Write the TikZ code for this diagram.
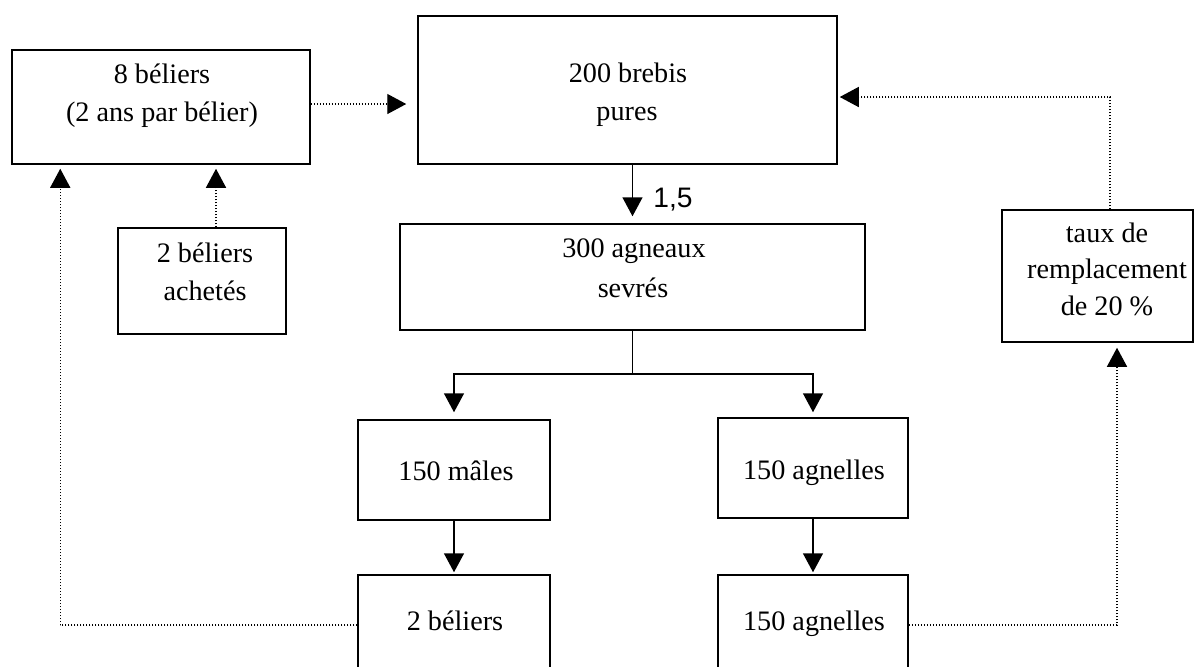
\documentclass[tikz,border=0pt]{standalone}
\usepackage{fontspec}
\setmainfont{Liberation Serif}
\newfontfamily\arialfont{Liberation Sans}
\usetikzlibrary{arrows.meta,calc}

\begin{document}
\begin{tikzpicture}[x=0.5pt,y=-0.5pt,
  box/.style={draw,line width=0.75pt,rectangle,inner sep=0pt,anchor=center},
  txt/.style={inner sep=0pt,anchor=base,font=\fontsize{14.1}{16}\selectfont},
  arr/.style={line width=0.75pt,-{Triangle[length=9.5pt,width=10pt]}},
  dotarr/.style={arr,line width=0.7pt,dash pattern=on 0.7pt off 0.8pt}]
\clip (0,0) rectangle (1195,666);
\fill[white] (0,0) rectangle (1195,666);

% boxes
\node[box,minimum width=149pt,minimum height=57pt] (A) at (161,107) {};
\node[box,minimum width=209.5pt,minimum height=74pt] (B) at (627.5,90) {};
\node[box,minimum width=84pt,minimum height=53pt] (P) at (202,281) {};
\node[box,minimum width=232.5pt,minimum height=53pt] (C) at (632.5,277) {};
\node[box,minimum width=95.5pt,minimum height=66pt] (T) at (1097.5,276) {};
\node[box,minimum width=96pt,minimum height=50pt] (M) at (454,470) {};
\node[box,minimum width=95pt,minimum height=50pt] (G) at (813,468) {};
\node[box,minimum width=96pt,minimum height=50pt] (R) at (454,625) {};
\node[box,minimum width=95pt,minimum height=50pt] (H) at (813,625) {};

% texts
\node[txt] (a1t) at (162,83) {8 béliers};
\node[txt] (a2t) at (162,121) {(2 ans par bélier)};
\node[txt] (b1t) at (628,82) {200 brebis};
\node[txt] (b2t) at (627,120) {pures};
\node[txt] (c1t) at (634,257) {300 agneaux};
\node[txt] (c2t) at (633,297) {sevrés};
\node[txt] (p1t) at (205,262) {2 béliers};
\node[txt] (p2t) at (205,300) {achetés};
\node[txt] (t1t) at (1107,242) {taux de};
\node[txt] (t2t) at (1107,278) {remplacement};
\node[txt] (t3t) at (1107,315) {de 20 \%};
\node[txt] (mt) at (456,480) {150 mâles};
\node[txt] (gt) at (814,479) {150 agnelles};
\node[txt] (rt) at (455,630) {2 béliers};
\node[txt] (ht) at (814,630) {150 agnelles};
\node[inner sep=0pt,anchor=base,font=\arialfont\fontsize{14.1}{16}\selectfont] (r15) at (673,207) {1,5};

% connectors
\coordinate (a0) at ($(A.east)+(0,-3)$);
\draw[dotarr,shorten >=5.5pt] (a0) -- (a0 -| B.west);

\coordinate (t0) at ($(T.north)+(12.5,0)$);
\coordinate (b0) at ($(B.east)+(0,7)$);
\draw[dotarr,shorten >=1pt] (t0) |- (b0);

\draw[arr,shorten >=3.5pt] (C.north |- B.south) -- (C.north);

\draw[line width=0.75pt] (C.south) -- ++(0,43) coordinate (s0);
\draw[arr,shorten >=3.5pt] (s0) -| (M.north);
\draw[arr,shorten >=2.5pt] (s0) -| (G.north);

\draw[arr,shorten >=1pt] (M.south) -- (R.north);
\draw[arr,shorten >=1pt] (G.south) -- (H.north);

\coordinate (a1) at ($(A.south west)+(49,0)$);
\draw[dotarr,shorten >=2pt] (R.west) -| (a1);

\coordinate (p0) at ($(P.north)+(14,0)$);
\draw[dotarr,shorten >=2pt] (p0) -- (p0 |- A.south);

\coordinate (t1) at ($(T.south)+(19.5,0)$);
\draw[dotarr,shorten >=2.5pt] (H.east) -| (t1);
\end{tikzpicture}
\end{document}
